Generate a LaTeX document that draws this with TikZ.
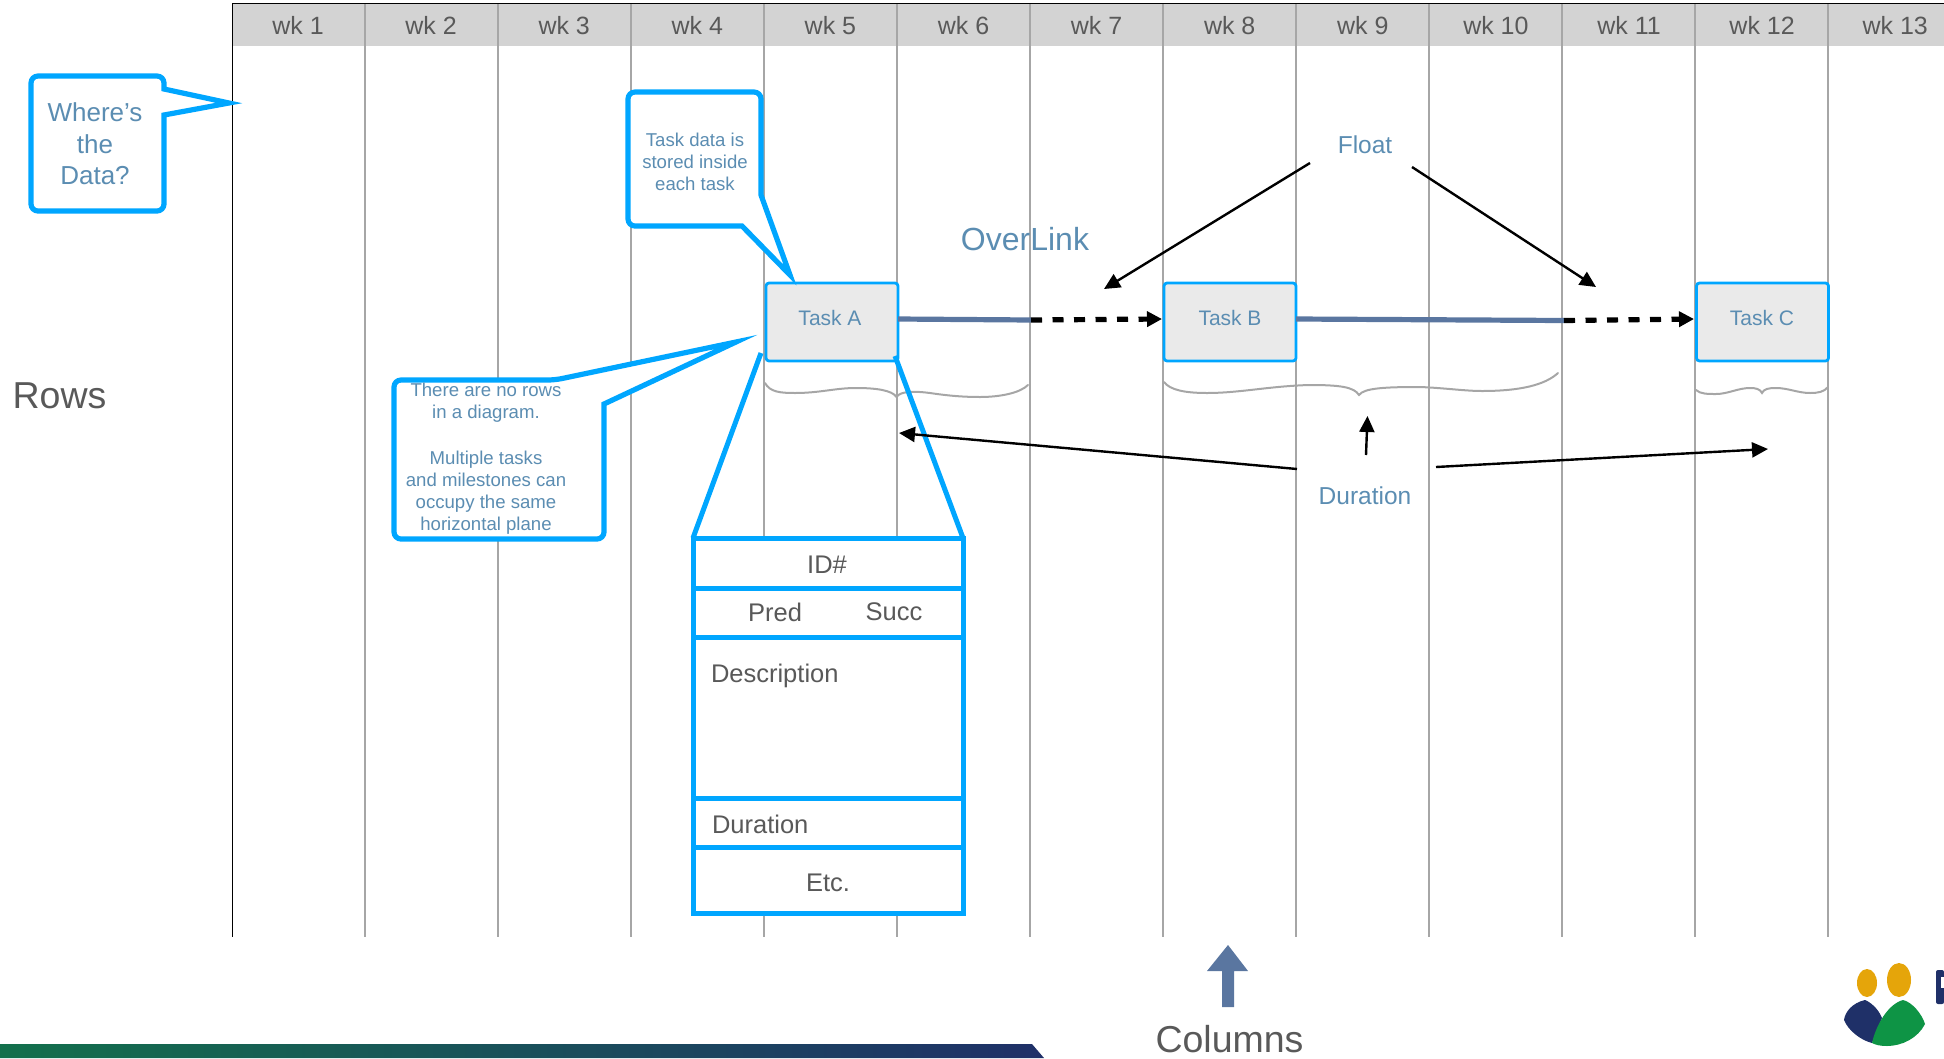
\documentclass[tikz,border=0pt]{standalone}
\usepackage{fontspec}
\setmainfont{Liberation Sans}
\usetikzlibrary{arrows.meta}
\definecolor{hdr}{HTML}{D3D3D3}
\definecolor{gridc}{HTML}{A6A6A6}
\definecolor{cyanb}{HTML}{00A6FF}
\definecolor{txtb}{HTML}{5B8DB2}
\definecolor{txtg}{HTML}{595959}
\definecolor{taskf}{HTML}{EAEAEA}
\definecolor{linkc}{HTML}{5A76A0}
\definecolor{navy}{HTML}{1F3068}
\definecolor{greenl}{HTML}{0E9445}
\definecolor{orangel}{HTML}{E5A50A}
\definecolor{greenbar}{HTML}{13704C}
\newcommand{\fs}[1]{\fontsize{#1}{#1}\selectfont}
\tikzset{
  x=1pt,y=-1pt,
  every node/.style={inner sep=0pt,outer sep=0pt},
  gridline/.style={draw=gridc,line width=2.8pt},
  wk/.style={text=txtg,font=\fs{25}},
  callout/.style={draw=cyanb,fill=white,line width=5.2pt,line join=miter},
  calltxt/.style={text=txtb,align=center,font=\fs{18.6},text depth=0pt},
  taskbox/.style={draw=cyanb,fill=taskf,line width=2.8pt,rounded corners=3pt,minimum width=132pt,minimum height=78pt,text=txtb,font=\fs{21}},
  solidlink/.style={draw=linkc,line width=5.2pt},
  dashlink/.style={draw=black,line width=5.2pt,dash pattern=on 11pt off 10.5pt,-{Triangle[length=15pt,width=15pt]}},
  pointer/.style={draw=black,line width=2.4pt,-{Triangle[length=16pt,width=15pt]}},
  brace/.style={draw=gridc,line width=2pt,line cap=round},
  cell/.style={draw=cyanb,line width=5pt,minimum width=270pt,fill=white},
  wedge/.style={draw=cyanb,line width=5pt},
  celltxt/.style={text=txtg,font=\fs{25.5}},
  label/.style={text=txtb,font=\fs{24.5}},
}
\begin{document}
\begin{tikzpicture}
\useasboundingbox (0,0) rectangle (1944,1058);
% header band
\fill[hdr] (232,4) rectangle (1944,46);
\draw[black,line width=0.9pt] (1944,3.5) -- (232,3.5) -- (232,937);
\foreach \i in {1,...,12}{\draw[gridline] ({232+133*\i},4) -- ({232+133*\i},937);}
\foreach \i in {1,...,13}{\node[wk] (wk\i) at ({298+133.1*(\i-1)},25.5) {wk \i};}
% tasks
\node[taskbox] (taskA) at (832,322) {};
\node[taskbox] (taskB) at (1230,322) {};
\node[taskbox] (taskC) at (1762.5,322) {};
\node[text=txtb,font=\fs{21}] at (830,318) {Task A};
\node[text=txtb,font=\fs{21}] at (1230,318) {Task B};
\node[text=txtb,font=\fs{21}] at (1762,318) {Task C};
% links
\coordinate (ab) at (1031,320);
\coordinate (bc) at (1564,320.5);
\draw[solidlink] (taskA.east |- 0,319) -- (ab);
\draw[dashlink] (ab) -- (1162,319);
\draw[solidlink] (taskB.east |- 0,319) -- (bc);
\draw[dashlink] (bc) -- (1694,319);
% braces
\draw[brace] (765,383) .. controls (770,392) and (780,393) .. (795,393) .. controls (820,393) and (835,388) .. (856,388) .. controls (875,388) and (892,390) .. (896.5,397) .. controls (900,391) and (915,391) .. (930,393) .. controls (950,396) and (965,397) .. (980,397) .. controls (1000,397) and (1020,393) .. (1028,385);
\draw[brace] (1164,382) .. controls (1170,390) and (1185,393) .. (1207,393) .. controls (1240,393) and (1270,386) .. (1310,385) .. controls (1340,385) and (1354,387) .. (1359,395) .. controls (1364,388) and (1385,387) .. (1420,387) .. controls (1445,388) and (1465,391) .. (1482,391) .. controls (1520,391) and (1545,385) .. (1558,373);
\draw[brace] (1696,390) .. controls (1700,394) and (1708,394) .. (1716,394) .. controls (1728,394) and (1738,388) .. (1750,388) .. controls (1756,388) and (1760,389) .. (1762,393) .. controls (1764,389) and (1768,388) .. (1776,388) .. controls (1788,388) and (1798,393) .. (1810,393) .. controls (1818,393) and (1824,392) .. (1828,387);
% callouts
\draw[callout,rounded corners=7pt] (31,76) -- (164,76) [sharp corners] -- (164,89) -- (229,103) -- (164,115) [rounded corners=7pt] -- (164,211) -- (31,211) -- cycle;
\draw[callout,rounded corners=7pt] (628,92) -- (761,92) [sharp corners] -- (761,195) -- (790,275) -- (742,226) [rounded corners=7pt] -- (628,226) -- cycle;
\draw[callout,rounded corners=7pt] (394,380) -- (555,380) [sharp corners] -- (736,342) -- (604,404) [rounded corners=7pt] -- (604,539) -- (394,539) -- cycle;
\node[calltxt,font=\fs{26}] (q1) at (95,112) {Where’s};
\node[calltxt,font=\fs{26}] (q2) at (95,144) {the};
\node[calltxt,font=\fs{26}] (q3) at (95,175) {Data?};
\foreach \t/\y in {Task data is/140,stored inside/162,each task/184}{\node[calltxt] at (695,\y) {\t};}
\foreach \t/\y in {There are no rows/390,in a diagram./412,Multiple tasks/458,and milestones can/480,occupy the same/502,horizontal plane/524}{\node[calltxt] at (486,\y) {\t};}
% record
\node[cell,minimum height=50pt] (c1) at (828,563) {};
\node[cell,minimum height=49pt] (c2) at (828,612.5) {};
\node[cell,minimum height=161pt] (c3) at (828,717.5) {};
\node[cell,minimum height=49pt] (c4) at (828,822.5) {};
\node[cell,minimum height=66pt] (c5) at (828,880) {};
\coordinate (wl) at (761,353);
\coordinate (wr) at (895,356);
\draw[wedge] (wl) -- (c1.north west);
\draw[wedge] (wr) -- (c1.north east);
\node[celltxt] at (827,564.5) {ID\#};
\node[celltxt] at (775,612) {Pred};
\node[celltxt] at (894,612) {Succ};
\node[celltxt,anchor=west] at (711,676) {Description};
\node[celltxt,anchor=west] at (712,824) {Duration};
\node[celltxt] at (828,883) {Etc.};
% labels
\node[text=txtg,font=\fs{37.5}] (rows) at (59.5,396) {Rows};
\node[text=txtg,font=\fs{37.5}] (cols) at (1229.5,1039) {Columns};
\node[label] (float) at (1365,145) {Float};
\node[label] (dur) at (1365,496) {Duration};
\node[text=txtb,font=\fs{32}] (over) at (1025,239) {OverLink};
% pointers
\coordinate (f1) at (1310,163); \coordinate (f1e) at (1104,289);
\coordinate (f2) at (1412,167); \coordinate (f2e) at (1596,287);
\coordinate (d1) at (1297,469); \coordinate (d1e) at (899,433);
\coordinate (d2) at (1436,467); \coordinate (d2e) at (1768,449);
\coordinate (d3) at (1366,455); \coordinate (d3e) at (1367.5,416);
\draw[pointer] (f1) -- (f1e);
\draw[pointer] (f2) -- (f2e);
\draw[pointer] (d1) -- (d1e);
\draw[pointer] (d2) -- (d2e);
\draw[pointer] (d3) -- (d3e);
% columns arrow
\fill[linkc] (1222,1007) -- (1222,971) -- (1207,971) -- (1228,945) -- (1248,971) -- (1234,971) -- (1234,1007) -- cycle;
% bottom bar
\shade[left color=greenbar,right color=navy] (0,1044) -- (1032,1044) -- (1044,1058) -- (0,1058) -- cycle;
% logo
\fill[orangel] (1867,983) ellipse [x radius=10,y radius=14];
\fill[orangel] (1899,980) ellipse [x radius=12,y radius=17];
\fill[navy] (1865,1000) .. controls (1852,1003) and (1845,1012) .. (1844,1020) .. controls (1848,1030) and (1860,1040) .. (1872,1043) -- (1882,1018) .. controls (1878,1008) and (1870,1002) .. (1865,1000) -- cycle;
\fill[greenl] (1903,1000) .. controls (1912,1002) and (1922,1014) .. (1925,1024) .. controls (1918,1038) and (1902,1046) .. (1887,1046) .. controls (1880,1046) and (1876,1045) .. (1872,1043) .. controls (1876,1025) and (1888,1004) .. (1903,1000) -- cycle;
\fill[navy,rounded corners=2pt] (1936,970) rectangle (1944,1004);
\fill[white] (1941,977) rectangle (1944,988);
\end{tikzpicture}
\end{document}
